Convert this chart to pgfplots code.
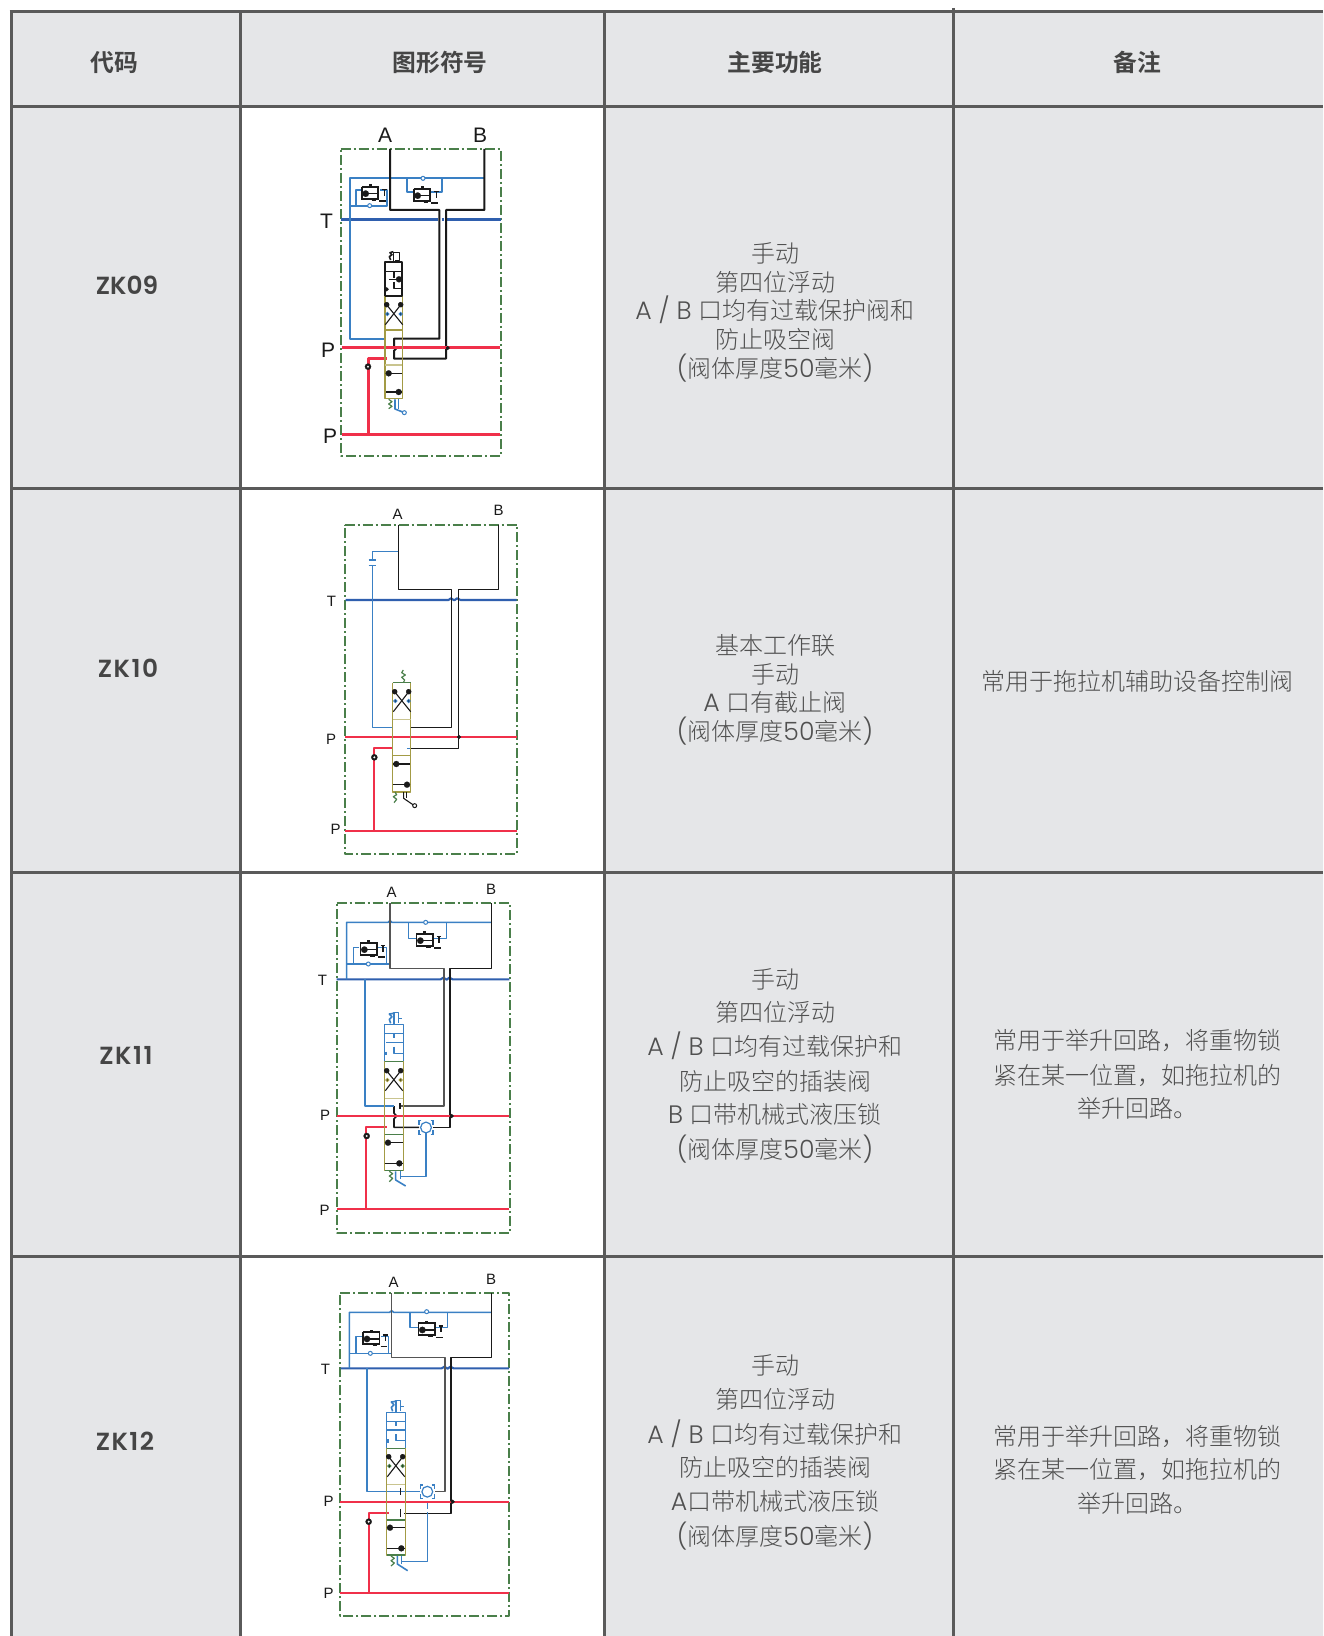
\documentclass[border=0pt]{standalone}
\usepackage{pgfplots}
\pgfplotsset{compat=1.18}
\usepackage{fontspec}
\setmainfont{Noto Sans CJK SC}[UprightFont=* Light,BoldFont=* Bold]
\newfontfamily\lat{Poppins}[Scale=1.05,UprightFont=* Light,BoldFont=* SemiBold]
\newfontfamily\lab{Liberation Sans}
\definecolor{cellbg}{HTML}{E5E6E8}
\definecolor{rule}{HTML}{5A5A5A}
\definecolor{celltx}{HTML}{505050}
\definecolor{headtx}{HTML}{454545}
\definecolor{grn}{HTML}{4A7F4A}
\definecolor{tblue}{HTML}{2F5FAE}
\definecolor{lblue}{HTML}{3A80C4}
\definecolor{red1}{HTML}{F0304A}
\definecolor{brn}{HTML}{A39B45}
\definecolor{pale}{HTML}{C9C48F}
\definecolor{blk}{HTML}{1A1A1A}
\definecolor{gry}{HTML}{555555}
\pgfplotsset{
  at/.style n args={3}{x filter/.expression={#1+x*#3},y filter/.expression={#2+y*#3}},
  P1/.style={at={300}{110}{1/3}},
  P2/.style={at={310}{490}{1/3}},
  P3/.style={at={300}{870}{1/3}},
  P4/.style={at={300}{1260}{1/3}},
  fr/.style={draw=grn,line width=0.85pt,dash pattern=on 5pt off 1.5pt on 1pt off 1.5pt},
  k1/.style={draw=blk,line width=1pt},
  k/.style={draw=blk,line width=0.8pt},
  kt/.style={draw=blk,line width=0.55pt},
  g/.style={draw=gry,line width=0.8pt},
  T1/.style={draw=tblue,line width=1.5pt},
  T/.style={draw=tblue,line width=1.05pt},
  b1/.style={draw=lblue,line width=1.05pt},
  b/.style={draw=lblue,line width=0.8pt},
  r1/.style={draw=red1,line width=1.5pt},
  r/.style={draw=red1,line width=1.05pt},
  br/.style={draw=brn,line width=0.8pt},
  pa/.style={draw=pale,line width=0.7pt},
  gr/.style={draw=grn,line width=0.7pt},
  gs/.style={draw=grn,line width=0.6pt},
  dsh/.style={draw=lblue,line width=0.8pt,dash pattern=on 3pt off 1.5pt},
}
\newcommand\Ln[3]{\addplot[#1,#2,line join=round] coordinates {#3};}
\newcommand\Hd[5]{\addplot[#1,only marks,mark=triangle*,mark size=#5,mark options={rotate=#2,fill=blk,draw=blk,line width=0.1pt}] coordinates {(#3,#4)};}
\newcommand\Ci[4]{\addplot[#1,only marks,mark=o,mark size=1pt,mark options={draw=#2,fill=white,line width=0.5pt}] coordinates {(#3,#4)};}
\newcommand\Dt[3]{\addplot[#1,only marks,mark=*,mark size=0.8pt,mark options={draw=blk,fill=blk}] coordinates {(#2,#3)};}
\newcommand\Ck[3]{\addplot[#1,only marks,mark=square*,mark size=1.55pt,mark options={rotate=45,draw=blk,fill=blk,line width=0.1pt}] coordinates {(#2,#3)};
  \addplot[#1,only marks,mark=*,mark size=0.45pt,mark options={draw=white,fill=white,line width=0.1pt}] coordinates {(#2,#3)};}
% relief valve symbol, in units of a third of a pixel round a centre
\newcommand\Rv[2]{%
  \addplot[at={#1}{#2}{1/3},draw=blk,fill=white,line width=0.85pt] coordinates {(-25,-18)(25,-18)(25,18)(-25,18)(-25,-18)};
  \addplot[at={#1}{#2}{1/3},draw=blk,line width=1.5pt] coordinates {(0,-18)(0,-26)};
  \addplot[at={#1}{#2}{1/3},draw=blk,line width=0.7pt] coordinates {(-20,2)(22,2)};
  \addplot[at={#1}{#2}{1/3},only marks,mark=triangle*,mark size=1.6pt,mark options={rotate=90,fill=blk,draw=blk,line width=0.1pt}] coordinates {(-13,2)};
  \addplot[at={#1}{#2}{1/3},draw=blk,line width=0.6pt] coordinates {(36,-10)(50,-10)};
  \addplot[at={#1}{#2}{1/3},draw=blk,line width=0.6pt] coordinates {(43,-10)(43,8)};
  \addplot[at={#1}{#2}{1/3},draw=blk,line width=0.6pt] coordinates {(28,24)(48,24)};
  \addplot[at={#1}{#2}{1/3},draw=blk,line width=0.6pt] coordinates {(5,22)(18,22)};
}
% the crossed position
\newcommand\Xs[3]{%
  \addplot[at={#1}{#2}{1/3},draw=blk,line width=0.55pt] coordinates {(-26,32)(22,-30)};
  \addplot[at={#1}{#2}{1/3},draw=blk,line width=0.55pt] coordinates {(-24,-30)(26,32)};
  \addplot[at={#1}{#2}{1/3},only marks,mark=triangle*,mark size=1.3pt,mark options={rotate=-35,fill=blk,draw=blk,line width=0.1pt}] coordinates {(20,-28)};
  \addplot[at={#1}{#2}{1/3},only marks,mark=triangle*,mark size=1.3pt,mark options={rotate=35,fill=blk,draw=blk,line width=0.1pt}] coordinates {(-22,-28)};
  \addplot[at={#1}{#2}{1/3},only marks,mark=-,mark size=0.8pt,mark options={draw=#3,line width=0.5pt}] coordinates {(-20,0)(20,0)};
}
% hydraulic lock
\newcommand\Lk[2]{%
  \addplot[at={#1}{#2}{1/3},only marks,mark=o,mark size=2.7pt,mark options={draw=lblue,fill=white,line width=0.6pt}] coordinates {(0,0)};
  \addplot[at={#1}{#2}{1/3},draw=lblue,line width=0.6pt] coordinates {(-14,-20)(-21,-20)(-21,-8)};
  \addplot[at={#1}{#2}{1/3},draw=lblue,line width=0.6pt] coordinates {(14,-20)(21,-20)(21,-8)};
  \addplot[at={#1}{#2}{1/3},draw=lblue,line width=0.6pt] coordinates {(-14,20)(-21,20)(-21,8)};
  \addplot[at={#1}{#2}{1/3},draw=lblue,line width=0.6pt] coordinates {(14,20)(21,20)(21,8)};
}
\newcommand\Tx[3]{\node[anchor=base,text=celltx,font=\fontsize{12}{14}\selectfont,inner sep=0pt] at (axis cs:#1,#2+9) {#3};}
\newcommand\Hdr[2]{\node[anchor=base,text=headtx,font=\fontsize{11.9}{14}\selectfont\bfseries,inner sep=0pt] at (axis cs:#1,71.5) {#2};}
\newcommand\Code[3]{\node[anchor=base,text=headtx,font=\fontsize{11.8}{14}\selectfont\lat\bfseries,inner sep=0pt] at (axis cs:#1,#2+9.5) {#3};}
\newcommand\Lb[4]{\node[anchor=center,text=blk,font=\fontsize{#3}{#3}\selectfont\lab,inner sep=0pt] at (axis cs:#1,#2) {#4};}
\begin{document}
\begin{tikzpicture}
\begin{axis}[scale only axis,width=661.5pt,height=818pt,xmin=0,xmax=1323,ymin=0,ymax=1636,y dir=reverse,hide axis,no markers]
% cells
\addplot[fill=cellbg,draw=none] coordinates {(11,11.5)(1323,11.5)(1323,1636)(11,1636)(11,11.5)};
\addplot[fill=white,draw=none] coordinates {(240,106.5)(604.5,106.5)(604.5,1636)(240,1636)(240,106.5)};
% rules
\addplot[draw=rule,line width=1.5pt] coordinates {(9.5,11.5)(1323,11.5)};
\addplot[draw=rule,line width=1.5pt] coordinates {(11,106.5)(1323,106.5)};
\addplot[draw=rule,line width=1.5pt] coordinates {(11,488.5)(1323,488.5)};
\addplot[draw=rule,line width=1.5pt] coordinates {(11,872.5)(1323,872.5)};
\addplot[draw=rule,line width=1.5pt] coordinates {(11,1256.5)(1323,1256.5)};
\addplot[draw=rule,line width=1.5pt] coordinates {(11,11.5)(11,1636)};
\addplot[draw=rule,line width=1.5pt] coordinates {(240,11.5)(240,1636)};
\addplot[draw=rule,line width=1.5pt] coordinates {(604.5,11.5)(604.5,1636)};
\addplot[draw=rule,line width=1.5pt] coordinates {(953,8)(953,1636)};
% ---------- panel 1
\Ln{P1}{fr}{(122,117)(602,117)(602,1038)(122,1038)(122,117)}
\Ln{P1}{T1}{(122,330)(415,330)}
\Ln{P1}{T1}{(425,330)(432,330)}
\Ln{P1}{T1}{(442,330)(602,330)}
\Ln{P1}{b1}{(553,205)(150,205)(150,686)(255,686)}
\Ln{P1}{b1}{(150,287)(262,287)(262,240)(240,240)}
\Ln{P1}{b1}{(168,287)(168,240)(185,240)}
\Ln{P1}{b1}{(322,205)(322,247)(342,247)}
\Ln{P1}{b1}{(426,205)(426,247)(390,247)}
\Ci{P1}{lblue}{369}{205}
\Ci{P1}{lblue}{209}{287}
\Rv{370}{193}
\Rv{422}{195}
\Ln{P1}{k1}{(270,117)(270,300)(418,300)(418,686)(282,686)(282,712)(288,716)(282,722)(282,746)(438,746)(438,300)(553,300)(553,117)}
\Ln{P1}{r1}{(125,714)(600,714)}
\Ln{P1}{r1}{(125,973)(600,973)}
\Ln{P1}{r1}{(204,973)(204,745)(262,745)}
\Ck{P1}{204}{770}
\Dt{P1}{443}{714}
\Ln{P1}{br}{(255,558)(255,866)(307,866)(307,558)}
\Ln{P1}{br}{(255,660)(307,660)}
\Ln{P1}{pa}{(255,765)(307,765)}
\Ln{P1}{k1}{(255,558)(255,457)(307,457)(307,558)(255,558)}
\Ln{P1}{k}{(255,485)(307,485)}
\Ln{P1}{k}{(282,485)(282,505)}
\Ln{P1}{k}{(268,508)(305,508)}
\Ln{P1}{k}{(282,515)(282,535)(305,535)}
\Hd{P1}{-90}{297}{508}{1.5pt}
\Dt{P1}{260}{538}
\Ln{P1}{k}{(272,450)(268,440)(276,434)(270,428)(280,425)}
\Ln{P1}{k}{(280,455)(280,428)(298,428)(298,452)(285,452)}
\Xs{394}{314}{lblue}
\Ln{P1}{k}{(258,790)(305,790)}
\Hd{P1}{90}{266}{790}{1.5pt}
\Ln{P1}{k}{(258,846)(305,846)}
\Hd{P1}{-90}{296}{846}{1.5pt}
\Ln{P1}{gs}{(266,868)(276,875)(266,882)(276,889)(266,896)}
\Ln{P1}{b}{(285,868)(285,897)(313,908)}
\Ln{P1}{b}{(295,868)(295,897)}
\Ci{P1}{lblue}{313}{908}
\Lb{385}{135}{10.5}{A}
\Lb{480}{135}{10.5}{B}
\Lb{326.5}{221.5}{10.5}{T}
\Lb{328}{350}{10.5}{P}
\Lb{330}{436}{10.5}{P}
% ---------- panel 2
\Ln{P2}{fr}{(104,104)(622,104)(622,1091)(104,1091)(104,104)}
\Ln{P2}{T}{(107,330)(415,330)(423,325)(433,331)(441,325)(452,330)(620,330)}
\Ln{P2}{k}{(265,104)(265,298)(425,298)(425,712)(303,712)}
\Ln{P2}{k}{(566,104)(566,298)(445,298)(445,775)(303,775)}
\Ln{P2}{b}{(265,185)(187,185)(187,210)}
\Ln{P2}{b}{(176,210)(198,210)}
\Ln{P2}{b}{(176,226)(198,226)}
\Ln{P2}{b}{(187,226)(187,712)(250,712)}
\Ln{P2}{r}{(105,741)(622,741)}
\Ln{P2}{r}{(105,1023)(622,1023)}
\Ln{P2}{r}{(193,1023)(193,775)(250,775)}
\Ck{P2}{193}{802}
\Dt{P2}{447}{741}
\Ln{P2}{br}{(248,578)(248,906)(302,906)(302,578)}
\Ln{P2}{gr}{(248,578)(302,578)}
\Ln{P2}{pa}{(248,688)(302,688)}
\Ln{P2}{br}{(248,797)(302,797)}
\Xs{402}{701}{lblue}
\Ln{P2}{b}{(292,775)(300,775)}
\Ln{P2}{k}{(250,822)(300,822)}
\Hd{P2}{90}{259}{822}{1.5pt}
\Ln{P2}{k}{(250,884)(300,884)}
\Hd{P2}{-90}{291}{884}{1.5pt}
\Ln{P2}{gs}{(280,578)(284,570)(275,562)(286,555)(275,548)(280,540)}
\Ln{P2}{gs}{(255,906)(260,914)(250,920)(260,928)(252,938)}
\Ln{P2}{kt}{(281,906)(281,925)(313,947)}
\Ln{P2}{kt}{(290,906)(290,925)}
\Ci{P2}{blk}{314}{947}
\Lb{397.5}{514}{7.5}{A}
\Lb{498.5}{510}{7.5}{B}
\Lb{331.5}{601}{7.5}{T}
\Lb{331}{739}{7.5}{P}
\Lb{335.5}{829.5}{7.5}{P}
% ---------- panel 3
\Ln{P3}{fr}{(110,100)(630,100)(630,1088)(110,1088)(110,100)}
\Ln{P3}{T}{(110,328)(422,328)(430,323)(440,329)(448,323)(458,328)(628,328)}
\Ln{P3}{b}{(140,328)(140,157)(264,157)(270,152)(276,157)(575,157)}
\Ln{P3}{b}{(325,157)(325,205)(350,205)}
\Ln{P3}{b}{(440,157)(440,205)(398,205)}
\Ci{P3}{lblue}{377}{157}
\Ln{P3}{b}{(140,282)(270,282)}
\Ln{P3}{b}{(160,282)(160,232)(178,232)}
\Ln{P3}{b}{(260,282)(260,232)(235,232)}
\Ci{P3}{lblue}{205}{282}
\Rv{368.7}{949}
\Rv{424.7}{940}
\Ln{P3}{g}{(270,100)(270,296)(432,296)(432,708)(300,708)}
\Ln{P3}{k}{(575,100)(575,296)(450,296)(450,772)(400,772)}
\Ln{P3}{k}{(357,772)(282,772)(282,746)(290,738)(282,730)(282,708)}
\Ln{P3}{b}{(195,328)(195,708)(282,708)}
\Ln{P3}{r}{(110,738)(628,738)}
\Ln{P3}{r}{(110,1018)(628,1018)}
\Ln{P3}{r}{(198,1018)(198,772)(262,772)}
\Ck{P3}{200}{798}
\Dt{P3}{455}{738}
\Ln{P3}{k}{(300,700)(300,716)}
\Ln{P3}{br}{(254,574)(254,902)(310,902)(310,574)}
\Ln{P3}{gr}{(254,574)(310,574)}
\Ln{P3}{pa}{(254,685)(310,685)}
\Ln{P3}{gr}{(254,793)(310,793)}
\Ln{P3}{gr}{(254,902)(310,902)}
\Xs{394}{1080}{brn}
\Ln{P3}{b}{(254,574)(254,463)(310,463)(310,574)}
\Ln{P3}{b}{(254,490)(310,490)}
\Ln{P3}{b}{(282,490)(282,505)}
\Ln{P3}{b}{(258,518)(310,518)}
\Ln{P3}{b}{(282,530)(282,550)(310,550)}
\Ln{P3}{b}{(258,545)(258,556)}
\Ln{P3}{b}{(272,460)(268,448)(276,440)(268,432)(280,430)}
\Ln{P3}{b}{(282,462)(282,428)(296,428)(296,460)}
\Ln{P3}{b}{(296,445)(305,445)}
\Ln{P3}{k}{(254,818)(310,818)}
\Hd{P3}{90}{264}{818}{1.5pt}
\Ln{P3}{k}{(254,880)(310,880)}
\Hd{P3}{-90}{298}{880}{1.5pt}
\Lk{426}{1127.5}
\Ln{P3}{b}{(378,790)(378,920)(302,920)}
\Ln{P3}{gs}{(268,904)(278,911)(268,918)(278,925)(268,935)}
\Ln{P3}{b}{(287,904)(287,930)(317,948)}
\Ln{P3}{b}{(302,904)(302,928)}
\Lb{391.5}{892}{7.5}{A}
\Lb{491}{889}{7.5}{B}
\Lb{322.5}{980.5}{7.5}{T}
\Lb{325}{1115}{7.5}{P}
\Lb{324.5}{1210}{7.5}{P}
% ---------- panel 4
\Ln{P4}{fr}{(120,100)(628,100)(628,1068)(120,1068)(120,100)}
\Ln{P4}{T}{(122,325)(425,325)(433,320)(443,326)(451,320)(461,325)(627,325)}
\Ln{P4}{b}{(148,325)(148,157)(269,157)(275,152)(281,157)(575,157)}
\Ln{P4}{b}{(330,157)(330,202)(355,202)}
\Ln{P4}{b}{(442,157)(442,202)(403,202)}
\Ci{P4}{lblue}{380}{155}
\Ln{P4}{b}{(148,280)(275,280)}
\Ln{P4}{b}{(168,280)(168,230)(187,230)}
\Ln{P4}{b}{(266,280)(266,230)(242,230)}
\Ci{P4}{lblue}{211}{280}
\Rv{371.3}{1338.3}
\Rv{426.7}{1329.3}
\Ln{P4}{g}{(275,100)(275,293)(435,293)(435,695)(405,695)}
\Ln{P4}{k}{(575,100)(575,293)(453,293)(453,760)(312,760)}
\Ln{P4}{k}{(302,748)(302,770)}
\Ln{P4}{b}{(201,325)(201,695)(360,695)}
\Ln{P4}{kt}{(302,685)(302,705)}
\Ln{P4}{r}{(120,725)(627,725)}
\Ln{P4}{r}{(120,998)(627,998)}
\Ln{P4}{r}{(206,998)(206,760)(268,760)}
\Ck{P4}{206}{785}
\Dt{P4}{458}{725}
\Ln{P4}{br}{(260,565)(260,885)(316,885)(316,565)}
\Ln{P4}{gr}{(260,565)(316,565)}
\Ln{P4}{pa}{(260,673)(316,673)}
\Ln{P4}{gr}{(260,780)(316,780)}
\Ln{P4}{gr}{(260,885)(316,885)}
\Xs{396}{1466}{grn}
\Ln{P4}{b}{(260,565)(260,457)(316,457)(316,565)}
\Ln{P4}{b}{(260,484)(316,484)}
\Ln{P4}{b}{(288,484)(288,498)}
\Ln{P4}{b}{(262,510)(316,510)}
\Ln{P4}{b}{(288,522)(288,542)(316,542)}
\Ln{P4}{b}{(264,538)(264,550)}
\Ln{P4}{b}{(278,454)(274,442)(282,434)(274,426)(286,424)}
\Ln{P4}{b}{(288,456)(288,422)(302,422)(302,454)}
\Ln{P4}{b}{(302,440)(312,440)}
\Ln{P4}{k}{(260,803)(316,803)}
\Hd{P4}{90}{270}{803}{1.5pt}
\Ln{P4}{k}{(260,865)(316,865)}
\Hd{P4}{-90}{304}{865}{1.5pt}
\Lk{427.3}{1491.7}
\Ln{P4}{dsh}{(382,730)(382,770)}
\Ln{P4}{b}{(382,770)(382,905)(305,905)}
\Ln{P4}{gs}{(273,888)(283,895)(273,902)(283,909)(273,918)}
\Ln{P4}{b}{(292,888)(292,912)(323,932)}
\Ln{P4}{b}{(305,888)(305,912)}
\Lb{393.5}{1282}{7.5}{A}
\Lb{491}{1279}{7.5}{B}
\Lb{325.5}{1369}{7.5}{T}
\Lb{328.5}{1501}{7.5}{P}
\Lb{328.5}{1593}{7.5}{P}
% ---------- headers and texts
\Hdr{114}{代码}
\Hdr{440}{图形符号}
\Hdr{775}{主要功能}
\Hdr{1137}{备注}
\Code{127}{285}{ZK09}
\Code{128}{668}{\addfontfeature{LetterSpace=6}ZK10}
\Code{126}{1055}{\addfontfeature{LetterSpace=6}ZK11}
\Code{125}{1441}{\addfontfeature{LetterSpace=6}ZK12}
\Tx{775}{253.5}{手动}
\Tx{775}{282.5}{第四位浮动}
\Tx{775}{311}{{\lat A / B }口均有过载保护阀和}
\Tx{775}{340}{防止吸空阀}
\Tx{775}{368.5}{{\lat (}阀体厚度{\lat 50}毫米{\lat )}}
\Tx{775}{645}{基本工作联}
\Tx{775}{674}{手动}
\Tx{775}{702}{{\lat A }口有截止阀}
\Tx{775}{731}{{\lat (}阀体厚度{\lat 50}毫米{\lat )}}
\Tx{1137}{681.5}{常用于拖拉机辅助设备控制阀}
\Tx{775}{979}{手动}
\Tx{775}{1012}{第四位浮动}
\Tx{775}{1046.5}{{\lat A / B }口均有过载保护和}
\Tx{775}{1081}{防止吸空的插装阀}
\Tx{775}{1114.5}{{\lat B }口带机械式液压锁}
\Tx{775}{1149}{{\lat (}阀体厚度{\lat 50}毫米{\lat )}}
\Tx{1137}{1040}{常用于举升回路，将重物锁}
\Tx{1137}{1075}{紧在某一位置，如拖拉机的}
\Tx{1137}{1108}{举升回路。}
\Tx{775}{1365}{手动}
\Tx{775}{1399}{第四位浮动}
\Tx{775}{1434}{{\lat A / B }口均有过载保护和}
\Tx{775}{1467}{防止吸空的插装阀}
\Tx{775}{1501.5}{{\lat A}口带机械式液压锁}
\Tx{775}{1536}{{\lat (}阀体厚度{\lat 50}毫米{\lat )}}
\Tx{1137}{1436}{常用于举升回路，将重物锁}
\Tx{1137}{1469}{紧在某一位置，如拖拉机的}
\Tx{1137}{1503}{举升回路。}
\end{axis}
\path (current axis.south west) rectangle (current axis.north east);
\end{tikzpicture}
\end{document}
